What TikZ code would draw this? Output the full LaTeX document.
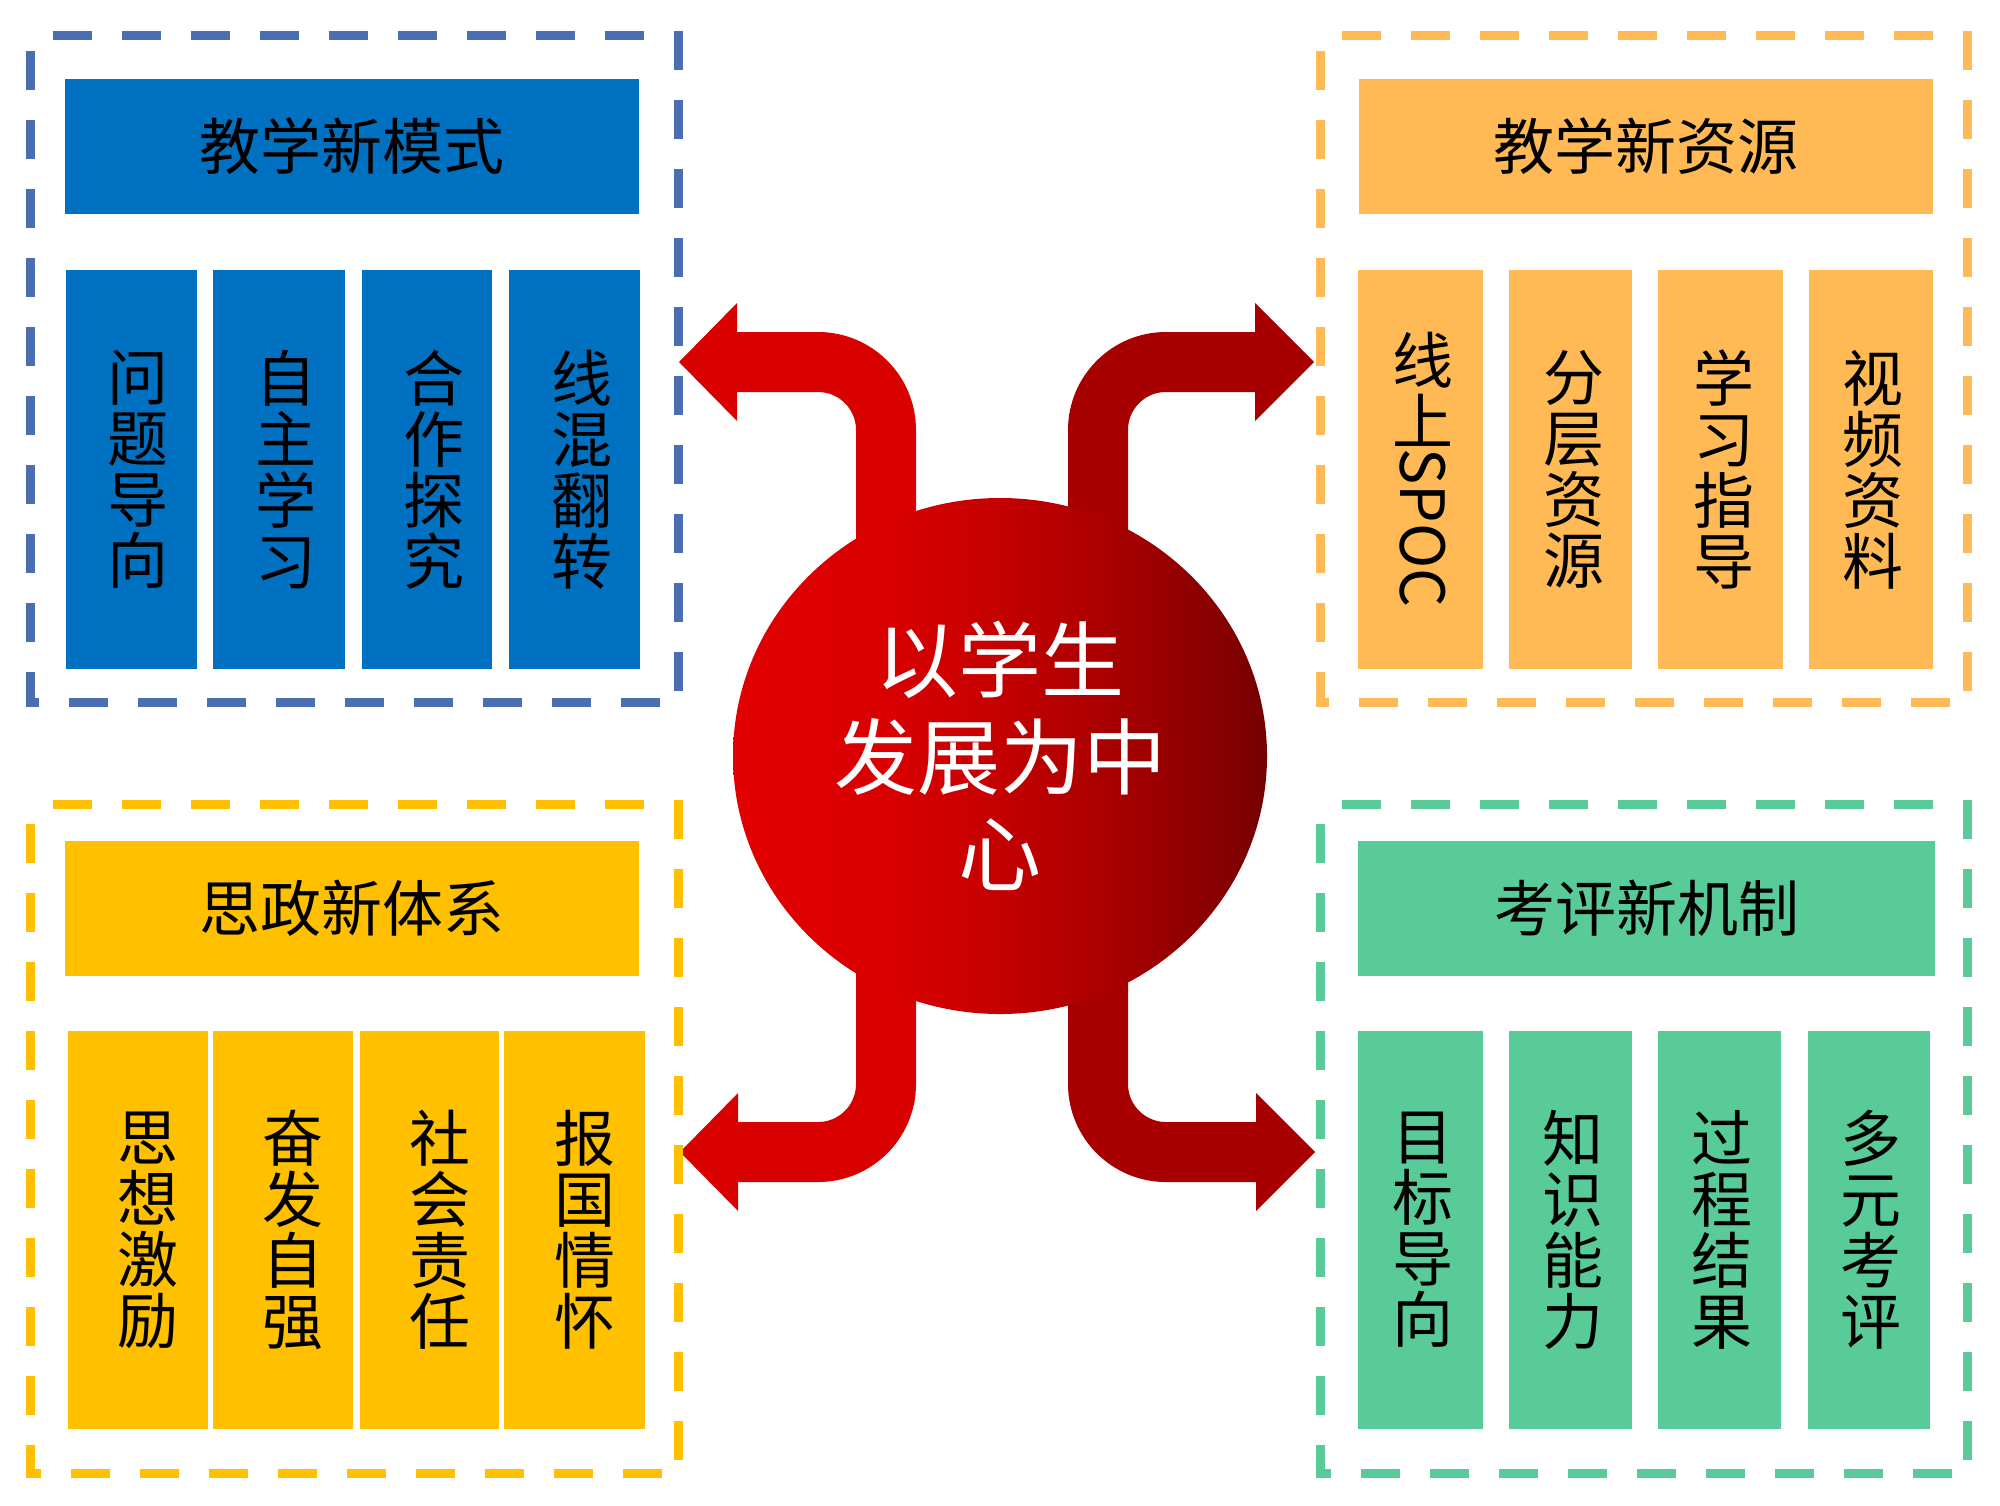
\documentclass[tikz,border=0pt]{standalone}
\usepackage{fontspec}
\usepackage{graphicx}
\newfontfamily\cjk{Noto Sans CJK SC}
\usetikzlibrary{shapes.geometric,calc}
\definecolor{bluefill}{HTML}{0070C0}
\definecolor{blueline}{HTML}{4A6EB1}
\definecolor{orangefill}{HTML}{FFBA55}
\definecolor{yellowfill}{HTML}{FFC000}
\definecolor{greenfill}{HTML}{58CB98}
\definecolor{arrowL}{HTML}{D90000}
\definecolor{arrowR}{HTML}{A80000}
\definecolor{ballA}{HTML}{E20000}
\definecolor{ballB}{HTML}{D80000}
\definecolor{ballC}{HTML}{C40000}
\definecolor{ballD}{HTML}{A20000}
\definecolor{ballE}{HTML}{760000}
\pgfdeclarehorizontalshading{ballshade}{100bp}{color(0bp)=(ballA); color(25bp)=(ballA); color(40bp)=(ballB); color(50bp)=(ballC); color(62.5bp)=(ballD); color(75bp)=(ballE); color(100bp)=(ballE)}
\tikzset{
  dashframe/.style={minimum width=323.5pt, minimum height=333pt, inner sep=0pt},
  dashside/.style={draw=#1, line width=4.5pt, dash pattern=on 19.5pt off 15pt, dash phase=23.5pt},
  headbox/.style={fill=#1, minimum width=287pt, minimum height=67.5pt, inner sep=0pt,
    font=\cjk\fontsize{30.5pt}{30.5pt}\selectfont, text=black},
  colbox/.style={fill=#1, minimum height=199.5pt, inner sep=0pt, align=center,
    font=\cjk\fontsize{30.5pt}{30.5pt}\selectfont, text=black},
  coltext/.style={inner sep=0pt, align=center, font=\cjk\fontsize{30.5pt}{30.5pt}\selectfont, text=black},
  shaftL/.style={draw=arrowL, line width=30pt, rounded corners=34pt},
  shaftR/.style={draw=arrowR, line width=30pt, rounded corners=34pt},
  headL/.style={fill=arrowL},
  headR/.style={fill=arrowR},
}
\newcommand{\framesides}[2]{\draw[dashside=#2] (#1.north west) -- (#1.north east) -- (#1.south east) -- (#1.south west) -- cycle;}
\begin{document}
\begin{tikzpicture}[x=0.5pt, y=-0.5pt]
\useasboundingbox (0,0) rectangle (2000,1505);
\fill[white] (0,0) rectangle (2000,1505);

% ---- arrows (behind the ball) ----
\coordinate (ballc) at (1000,756);
\coordinate (tTL) at (679,362);
\coordinate (tTR) at (1314,362);
\coordinate (tBL) at (680,1152);
\coordinate (tBR) at (1315,1152);
\draw[shaftL] ($(ballc)+(-114,-150)$) |- ($(tTL)+(56,0)$);
\fill[headL] (tTL) -- ++(58,-59) -- ++(0,118) -- cycle;
\draw[shaftR] ($(ballc)+(98,-150)$) |- ($(tTR)+(-56,0)$);
\fill[headR] (tTR) -- ++(-59,-59) -- ++(0,118) -- cycle;
\draw[shaftL] ($(ballc)+(-114,150)$) |- ($(tBL)+(56,0)$);
\fill[headL] (tBL) -- ++(58,-59) -- ++(0,118) -- cycle;
\draw[shaftR] ($(ballc)+(98,150)$) |- ($(tBR)+(-56,0)$);
\fill[headR] (tBR) -- ++(-59,-59) -- ++(0,118) -- cycle;

% ---- centre ball ----
\node[ellipse, shade, shading=ballshade, minimum width=267pt, minimum height=258pt, inner sep=0pt,
      align=center, text=white, font=\cjk\fontsize{41.5pt}{48.5pt}\selectfont] (ball) at (ballc)
      {以学生\\发展为中\\心};

% ---- top-left: blue ----
\node[dashframe] (fTL) at (354.5,369) {};
\framesides{fTL}{blueline}
\node[headbox=bluefill] (hTL) at (351.5,146.5) {教学新模式};
\node[colbox=bluefill, minimum width=65.5pt] (c11) at (131.5,469.5) {};
\node[colbox=bluefill, minimum width=66pt] (c12) at (279,469.5) {};
\node[colbox=bluefill, minimum width=65pt] (c13) at (427,469.5) {};
\node[colbox=bluefill, minimum width=65.5pt] (c14) at (574.5,469.5) {};
\node[coltext] (x11) at ($(c11)+(6,0)$) {问\\题\\导\\向};
\node[coltext] (x12) at ($(c12)+(7,0)$) {自\\主\\学\\习};
\node[coltext] (x13) at ($(c13)+(7,0)$) {合\\作\\探\\究};
\node[coltext] (x14) at ($(c14)+(7,0)$) {线\\混\\翻\\转};

% ---- top-right: orange ----
\node[dashframe] (fTR) at (1644,369) {};
\framesides{fTR}{orangefill}
\node[headbox=orangefill] (hTR) at (1645.5,146.5) {教学新资源};
\node[colbox=orangefill, minimum width=62.5pt] (c21) at (1420.5,469.5) {};
\node[colbox=orangefill, minimum width=61.5pt] (c22) at (1570.5,469.5) {};
\node[colbox=orangefill, minimum width=62.5pt] (c23) at (1720.5,469.5) {};
\node[colbox=orangefill, minimum width=62pt] (c24) at (1871,469.5) {};
\node[coltext] (x21) at ($(c21)+(2,0)$) {线\\上\\\rotatebox[origin=c]{-90}{SPOC}};
\node[coltext] (x22) at ($(c22)+(3,0)$) {分\\层\\资\\源};
\node[coltext] (x23) at ($(c23)+(3,0)$) {学\\习\\指\\导};
\node[coltext] (x24) at ($(c24)+(2,0)$) {视\\频\\资\\料};

% ---- bottom-left: yellow ----
\node[dashframe, minimum height=334pt] (fBL) at (354.5,1139) {};
\framesides{fBL}{yellowfill}
\node[headbox=yellowfill] (hBL) at (351.5,908.5) {思政新体系};
\node[colbox=yellowfill, minimum width=70pt, minimum height=199pt] (c31) at (138,1230) {};
\node[colbox=yellowfill, minimum width=70pt, minimum height=199pt] (c32) at (283,1230) {};
\node[colbox=yellowfill, minimum width=69.5pt, minimum height=199pt] (c33) at (429.5,1230) {};
\node[colbox=yellowfill, minimum width=70.5pt, minimum height=199pt] (c34) at (574.5,1230) {};
\node[coltext] (x31) at ($(c31)+(10,0)$) {思\\想\\激\\励};
\node[coltext] (x32) at ($(c32)+(10,0)$) {奋\\发\\自\\强};
\node[coltext] (x33) at ($(c33)+(10,0)$) {社\\会\\责\\任};
\node[coltext] (x34) at ($(c34)+(10,0)$) {报\\国\\情\\怀};

% ---- bottom-right: green ----
\node[dashframe, minimum height=334pt] (fBR) at (1644,1139) {};
\framesides{fBR}{greenfill}
\node[headbox=greenfill, minimum width=288.5pt] (hBR) at (1646.5,908.5) {考评新机制};
\node[colbox=greenfill, minimum width=62.5pt, minimum height=199pt] (c41) at (1420.5,1230) {};
\node[colbox=greenfill, minimum width=61.5pt, minimum height=199pt] (c42) at (1570.5,1230) {};
\node[colbox=greenfill, minimum width=61.5pt, minimum height=199pt] (c43) at (1719.5,1230) {};
\node[colbox=greenfill, minimum width=61pt, minimum height=199pt] (c44) at (1869,1230) {};
\node[coltext] (x41) at ($(c41)+(2,0)$) {目\\标\\导\\向};
\node[coltext] (x42) at ($(c42)+(2,0)$) {知\\识\\能\\力};
\node[coltext] (x43) at ($(c43)+(2,0)$) {过\\程\\结\\果};
\node[coltext] (x44) at ($(c44)+(2,0)$) {多\\元\\考\\评};
\end{tikzpicture}
\end{document}
